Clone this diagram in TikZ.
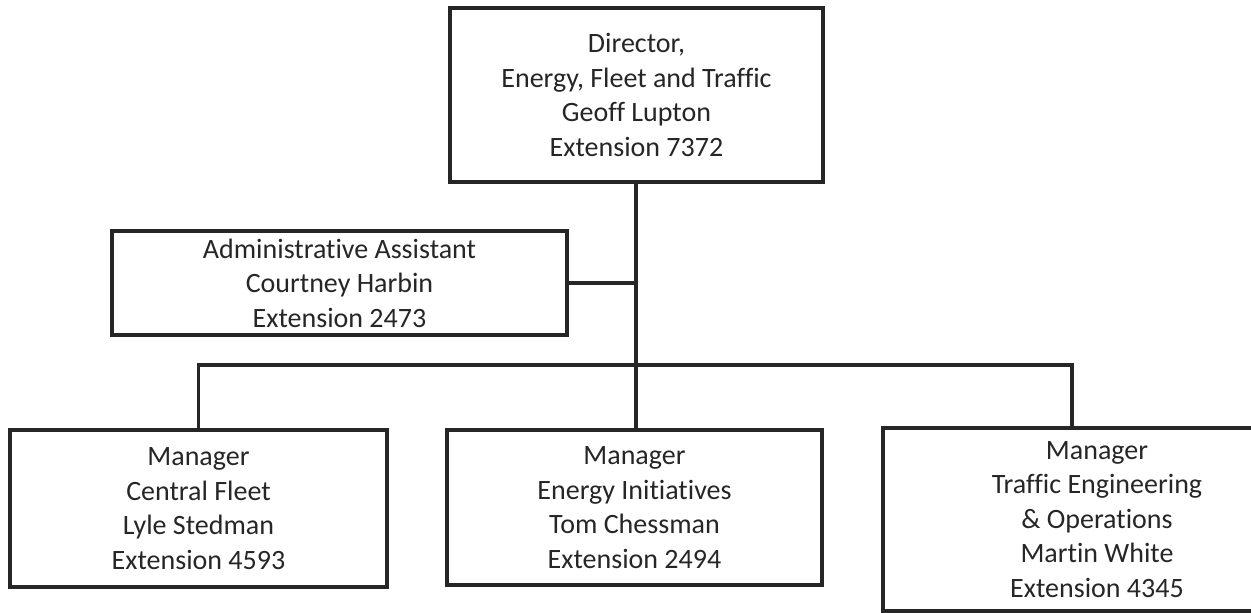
\documentclass[tikz,border=0pt]{standalone}
\usepackage{fontspec}
\setmainfont{Carlito}[Ligatures={NoCommon}]
\begin{document}
\begin{tikzpicture}[x=1pt,y=-1pt,
  box/.style={draw=black!85, line width=3.5pt, rectangle, inner sep=0pt, align=center,
    text=black!85, font=\fontsize{28}{34.5}\selectfont},
  link/.style={draw=black!85, line width=3.5pt}]
\useasboundingbox (0,0) rectangle (1251,613);
\clip (0,0) rectangle (1251,613);
\fill[white] (0,0) rectangle (1251,613);
\node[box, minimum width=373pt, minimum height=174pt, text depth=-3pt] (dir) at (636.5,95)
  {Director,\\Energy, Fleet and Traffic\\Geoff Lupton\\Extension 7372};
\node[box, minimum width=455pt, minimum height=104pt] (adm) at (339.5,283)
  {Administrative Assistant\\Courtney Harbin\\Extension 2473};
\node[box, minimum width=377pt, minimum height=157pt] (lft) at (198.5,508.5)
  {Manager\\Central Fleet\\Lyle Stedman\\Extension 4593};
\node[box, minimum width=375pt, minimum height=155pt] (mid) at (634.5,507.5)
  {Manager\\Energy Initiatives\\Tom Chessman\\Extension 2494};
\node[box, minimum width=428pt, minimum height=183pt] (rgt) at (1097,519.5)
  {Manager\\Traffic Engineering\\\& Operations\\Martin White\\Extension 4345};
\coordinate (bus) at (636,365);
\coordinate (rdrop) at (1072,428);
\draw[link] (dir.south -| bus) -- (mid.north -| bus);
\draw[link] (adm.east) -- (adm.east -| bus);
\draw[link] (lft.north) |- (bus) -| (rdrop);
\end{tikzpicture}
\end{document}
